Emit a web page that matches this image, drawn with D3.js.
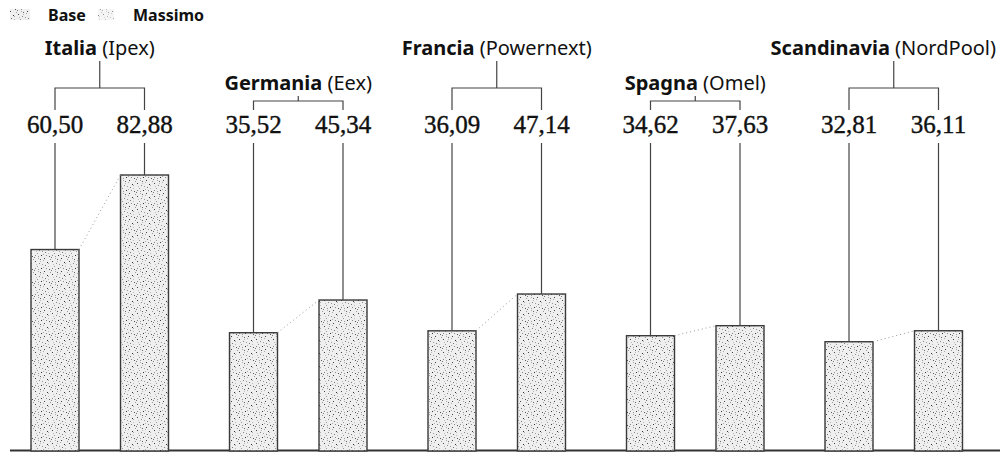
<!DOCTYPE html>
<html>
<head>
<meta charset="utf-8">
<style>
body { margin: 0; background: #fff; }
svg { display: block; }
.title { font-family: "Noto Sans", sans-serif; font-size: 20px; fill: #111; }
.title .bold { font-weight: bold; }
.value { font-family: "Liberation Serif", serif; font-size: 25px; fill: #111; stroke: #111; stroke-width: 0.4; }
.legend text { font-family: "Noto Sans", sans-serif; font-size: 16px; font-weight: bold; fill: #111; }
.tick { stroke: #444; stroke-width: 1.2; fill: none; }
</style>
</head>
<body>
<div id="chart"></div>
<script src="https://d3js.org/d3.v7.min.js"></script>
<script>

var countries = ["Italia", "Germania", "Francia", "Spagna", "Scandinavia"];
var exchanges = ["Ipex", "Eex", "Powernext", "Omel", "NordPool"];
var base = [60.50, 35.52, 36.09, 34.62, 32.81];
var massimo = [82.88, 45.34, 47.14, 37.63, 36.11];
var seriesNames = ["Base", "Massimo"];

var width = 1001, height = 452;

var rows = countries.map((c, i) => ({country: c, exchange: exchanges[i], base: base[i], massimo: massimo[i], tier: i % 2}));

var svg = d3.select("#chart").append("svg")
  .attr("width", width)
  .attr("height", height);

// stippled fill like the printed original
var defs = svg.append("defs");
var pat = defs.append("pattern")
  .attr("id", "stip")
  .attr("patternUnits", "userSpaceOnUse")
  .attr("width", 17).attr("height", 13);
pat.append("rect").attr("width", 17).attr("height", 13).attr("fill", "#efefef");
var dots = [[1,1,"#444"],[5,3,"#888"],[9,0,"#aaa"],[13,2,"#333"],[3,6,"#999"],[7,8,"#333"],[11,5,"#777"],[15,9,"#555"],
            [0,10,"#777"],[4,11,"#aaa"],[10,11,"#444"],[14,6,"#bbb"],[2,4,"#bbb"],[8,4,"#999"],[12,8,"#888"],[6,12,"#666"],
            [16,12,"#999"],[6,1,"#bbb"],[9,7,"#aaa"],[1,8,"#888"],[14,3,"#aaa"],[4,9,"#999"]];
dots.forEach(d => pat.append("rect").attr("x", d[0]).attr("y", d[1]).attr("width", 1).attr("height", 1).attr("fill", d[2]));

var fmt = d3.formatLocale({decimal: ",", thousands: ".", grouping: [3], currency: ["", "€"]}).format(".2f");

var x0 = d3.scaleBand().domain(countries).range([31, 31 + 5 * 198.5]).padding(0);
var x1 = d3.scaleBand().domain(["base", "massimo"]).range([0, 137.5]).paddingInner(1 - 48 / 89.5).paddingOuter(0);
var y = d3.scaleLinear().domain([0, 90]).range([451, 451 - 90 * 3.33]);

var bw = x1.bandwidth();
var cx = (d, k) => x0(d.country) + x1(k) + bw / 2;

// legend
var legend = svg.append("g").attr("class", "legend");
legend.append("rect").attr("x", 10).attr("y", 9).attr("width", 20).attr("height", 11).attr("fill", "url(#stip)");
legend.append("text").attr("x", 48).attr("y", 21).text(seriesNames[0]);
legend.append("rect").attr("x", 98).attr("y", 9).attr("width", 16).attr("height", 11).attr("fill", "url(#stip)").attr("opacity", 0.6);
legend.append("text").attr("x", 133).attr("y", 21).text(seriesNames[1]);

// baseline
svg.append("line")
  .attr("x1", 10).attr("x2", 1000)
  .attr("y1", y(0) - 0.5).attr("y2", y(0) - 0.5)
  .attr("stroke", "#333").attr("stroke-width", 2);

var group = svg.selectAll(".group")
  .data(rows)
  .enter().append("g")
  .attr("class", "group");

// bars
["base", "massimo"].forEach(k => {
  group.append("rect")
    .attr("x", d => x0(d.country) + x1(k))
    .attr("y", d => y(d[k]))
    .attr("width", bw)
    .attr("height", d => y(0) - y(d[k]))
    .attr("fill", "url(#stip)")
    .attr("stroke", "#3a3a3a")
    .attr("stroke-width", 1.4);

  // line from bar top up to value
  group.append("line")
    .attr("class", "tick")
    .attr("x1", d => cx(d, k)).attr("x2", d => cx(d, k))
    .attr("y1", d => y(d[k])).attr("y2", 143);

  group.append("text")
    .attr("class", "value")
    .attr("x", d => cx(d, k))
    .attr("y", 133)
    .attr("text-anchor", "middle")
    .text(d => fmt(d[k]));
});

// dotted connector between the tops
group.append("line")
  .attr("x1", d => x0(d.country) + x1("base") + bw)
  .attr("y1", d => y(d.base))
  .attr("x2", d => x0(d.country) + x1("massimo"))
  .attr("y2", d => y(d.massimo))
  .attr("stroke", "#999").attr("stroke-width", 1)
  .attr("stroke-dasharray", "1,3");

// brackets
var titleY = t => t ? 90 : 55;
var bracketY = t => t ? 101 : 88;

group.append("path")
  .attr("class", "tick")
  .attr("d", d => {
    var a = cx(d, "base"), b = cx(d, "massimo"), m = (a + b) / 2, by = bracketY(d.tier);
    return `M${a},110V${by}H${b}V110M${m},${by}V${titleY(d.tier) + 6}`;
  });

var title = group.append("text")
  .attr("class", "title")
  .attr("y", d => titleY(d.tier));
title.append("tspan").attr("class", "bold").text(d => d.country);
title.append("tspan").text(d => " (" + d.exchange + ")");

// centre each title over its bracket, keeping it inside the page
title.attr("x", function(d) {
  var w = this.getComputedTextLength();
  var m = (cx(d, "base") + cx(d, "massimo")) / 2;
  return Math.min(m - w / 2, width - 5 - w);
});

</script>
</body>
</html>
